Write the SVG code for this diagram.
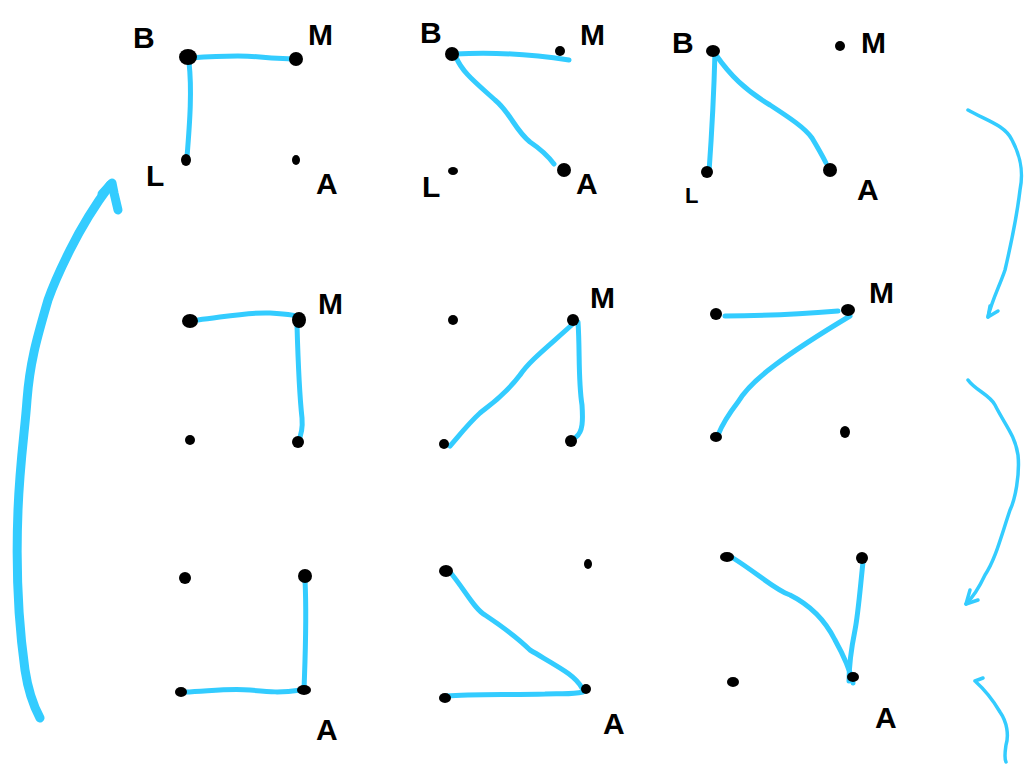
<svg xmlns="http://www.w3.org/2000/svg" width="1025" height="770" viewBox="0 0 1025 770">
<style>
.e{fill:none;stroke:#33ccff;stroke-width:5;stroke-linecap:round;stroke-linejoin:round}
.a{fill:none;stroke:#33ccff;stroke-width:3.5;stroke-linecap:round;stroke-linejoin:round}
.big{fill:none;stroke:#33ccff;stroke-width:9;stroke-linecap:round;stroke-linejoin:round}
.d{fill:#000}
.t{font-family:"Liberation Sans",Arial,sans-serif;font-weight:bold;font-size:30px;fill:#000}
</style>
<rect width="1025" height="770" fill="#fff"/>
<g id="connectors">
<path class="e" d="M190,58 C220,56 240,55 260,57 S285,58 292,59"/>
<path class="e" d="M189,62 C192,90 190,120 187,157"/>
<path class="e" d="M455,54 C490,52 530,54 569,60"/>
<path class="e" d="M456,57 C462,72 475,82 495,100 C510,112 515,130 530,142 C542,150 548,156 554,164"/>
<path class="e" d="M715,52 C714,90 712,130 709,172"/>
<path class="e" d="M716,55 C730,75 745,90 770,105 C790,118 805,128 812,138 C818,148 822,155 826,163"/>
<path class="e" d="M198,320 C230,316 250,312 270,313 S290,315 298,316"/>
<path class="e" d="M297,325 C298,360 300,400 302,418 C303,430 300,438 298,442"/>
<path class="e" d="M575,322 C550,345 530,360 520,375 C505,395 490,405 480,413 C470,422 462,432 450,446"/>
<path class="e" d="M578,322 C580,350 578,380 582,405 C583,420 583,432 576,437"/>
<path class="e" d="M725,316 C760,316 800,314 838,311"/>
<path class="e" d="M850,316 C820,334 795,350 775,365 C755,380 745,390 738,402 C728,415 722,425 718,435"/>
<path class="e" d="M305,580 C307,620 305,660 304,690"/>
<path class="e" d="M185,692 C210,691 230,688 250,690 S280,693 301,690"/>
<path class="e" d="M450,572 C465,590 475,610 485,615 C500,625 520,640 530,650 C560,668 575,675 582,688"/>
<path class="e" d="M583,692 C570,695 560,693 545,694 C510,695 470,694 447,696"/>
<path class="e" d="M733,558 C760,575 775,590 790,595 C810,605 825,620 835,640 C845,658 850,670 853,683"/>
<path class="e" d="M863,562 C860,590 858,615 855,630 C851,650 849,665 849,681"/>
<path class="big" d="M40,718 C33,705 28,690 25,670 C18,620 16,560 18,510 C20,460 25,430 27,400 C30,360 38,335 48,300 C55,280 60,270 70,250 C80,230 95,205 110,185"/>
<path class="big" d="M102,194 L112,183 L114,193 L118,210"/>
<path class="a" d="M968,110 C985,120 1005,125 1012,140 C1020,155 1024,170 1020,190 C1017,215 1012,240 1005,270 C1000,285 992,300 988,317"/>
<path class="a" d="M988,317 L990,306 M988,317 L998,311"/>
<path class="a" d="M968,380 C975,390 990,395 995,405 C1005,425 1015,435 1018,455 C1020,475 1015,500 1010,510 C1000,540 995,560 985,575 C978,590 970,600 966,604"/>
<path class="a" d="M966,604 L970,590 M966,604 L978,600"/>
<path class="a" d="M975,681 L983,678 M975,681 C985,690 993,700 1000,712 C1007,722 1009,735 1006,745 C1005,752 1004,758 1006,762"/>
</g>
<g id="p1">
<ellipse class="d" cx="188" cy="57" rx="9" ry="8"/>
<ellipse class="d" cx="296" cy="59" rx="7" ry="7"/>
<ellipse class="d" cx="186" cy="160" rx="5" ry="6"/>
<ellipse class="d" cx="296" cy="160" rx="4" ry="5"/>
<text class="t" x="133" y="48">B</text>
<text class="t" x="308" y="45">M</text>
<text class="t" x="146" y="186">L</text>
<text class="t" x="316" y="194">A</text>
</g>
<g id="p2">
<ellipse class="d" cx="452" cy="54" rx="7" ry="7"/>
<ellipse class="d" cx="560" cy="51" rx="5" ry="5"/>
<ellipse class="d" cx="453" cy="171" rx="5" ry="4"/>
<ellipse class="d" cx="564" cy="170" rx="7" ry="7"/>
<text class="t" x="420" y="43">B</text>
<text class="t" x="580" y="45">M</text>
<text class="t" x="422" y="197">L</text>
<text class="t" x="576" y="194">A</text>
</g>
<g id="p3">
<ellipse class="d" cx="713" cy="51" rx="7" ry="6"/>
<ellipse class="d" cx="840" cy="46" rx="5" ry="5"/>
<ellipse class="d" cx="707" cy="172" rx="6" ry="6"/>
<ellipse class="d" cx="830" cy="170" rx="7" ry="7"/>
<text class="t" x="672" y="53">B</text>
<text class="t" x="861" y="53">M</text>
<text class="t" x="685" y="203" style="font-size:22px">L</text>
<text class="t" x="857" y="200">A</text>
</g>
<g id="p4">
<ellipse class="d" cx="190" cy="321" rx="8" ry="7"/>
<ellipse class="d" cx="299" cy="320" rx="7" ry="8"/>
<ellipse class="d" cx="190" cy="440" rx="5" ry="5"/>
<ellipse class="d" cx="298" cy="442" rx="6" ry="6"/>
<text class="t" x="318" y="314">M</text>
</g>
<g id="p5">
<ellipse class="d" cx="453" cy="320" rx="5" ry="5"/>
<ellipse class="d" cx="573" cy="320" rx="6" ry="6"/>
<ellipse class="d" cx="444" cy="444" rx="5" ry="5"/>
<ellipse class="d" cx="571" cy="441" rx="6" ry="6"/>
<text class="t" x="590" y="308">M</text>
</g>
<g id="p6">
<ellipse class="d" cx="716" cy="314" rx="6" ry="6"/>
<ellipse class="d" cx="848" cy="310" rx="7" ry="6"/>
<ellipse class="d" cx="716" cy="437" rx="6" ry="5"/>
<ellipse class="d" cx="845" cy="432" rx="5" ry="6"/>
<text class="t" x="869" y="303">M</text>
</g>
<g id="p7">
<ellipse class="d" cx="185" cy="578" rx="6" ry="6"/>
<ellipse class="d" cx="305" cy="576" rx="7" ry="7"/>
<ellipse class="d" cx="181" cy="692" rx="6" ry="5"/>
<ellipse class="d" cx="304" cy="690" rx="7" ry="5"/>
<text class="t" x="316" y="740">A</text>
</g>
<g id="p8">
<ellipse class="d" cx="446" cy="571" rx="7" ry="6"/>
<ellipse class="d" cx="588" cy="564" rx="4" ry="5"/>
<ellipse class="d" cx="445" cy="698" rx="6" ry="5"/>
<ellipse class="d" cx="586" cy="689" rx="5" ry="5"/>
<text class="t" x="603" y="734">A</text>
</g>
<g id="p9">
<ellipse class="d" cx="727" cy="557" rx="7" ry="5"/>
<ellipse class="d" cx="862" cy="558" rx="6" ry="6"/>
<ellipse class="d" cx="733" cy="682" rx="6" ry="5"/>
<ellipse class="d" cx="853" cy="677" rx="6" ry="5"/>
<text class="t" x="875" y="728">A</text>
</g>
</svg>
